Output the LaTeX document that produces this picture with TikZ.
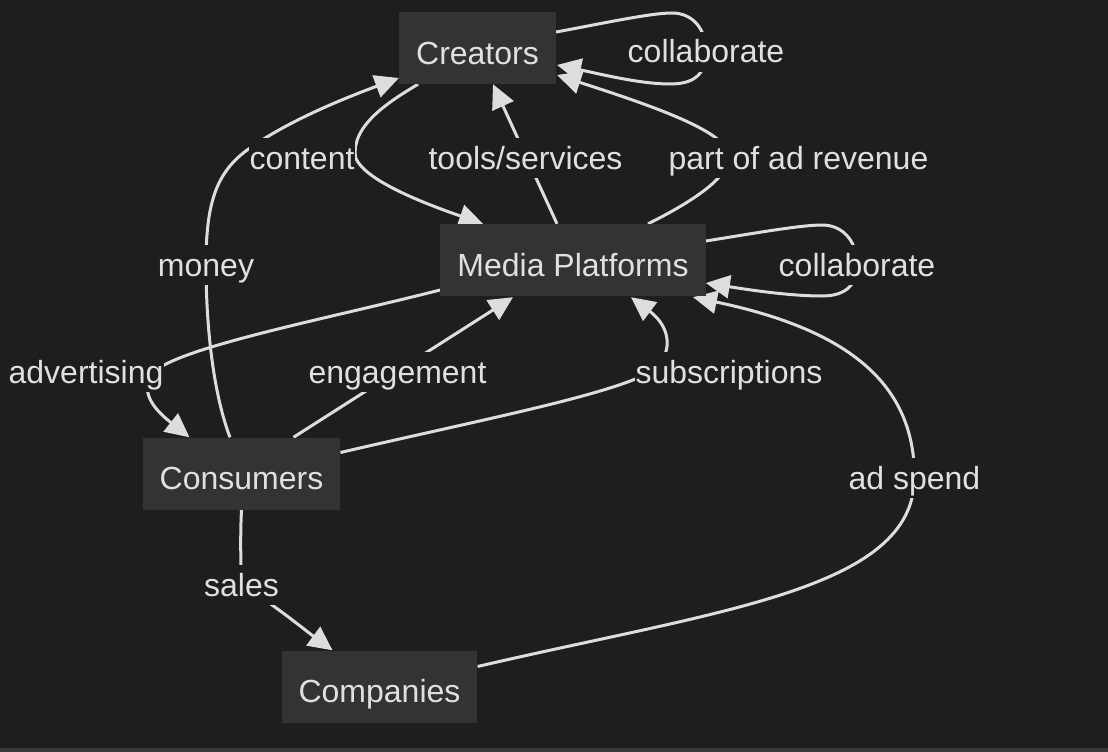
\documentclass[tikz,border=0pt]{standalone}
\usepackage{fontspec}
\setmainfont{Liberation Sans}
\usepackage{tikz}
\usetikzlibrary{arrows.meta, calc}
\definecolor{darkBg}{HTML}{1E1E1E}
\definecolor{boxGray}{HTML}{333333}
\definecolor{edgeGray}{HTML}{DDDDDD}
\definecolor{textGray}{HTML}{E0E0E0}
\definecolor{stripGray}{HTML}{3A3A3A}
\pgfdeclarelayer{edges}
\pgfsetlayers{edges,main}

\begin{document}
\begin{tikzpicture}[x=1pt, y=-1pt, line cap=round,
	entity/.style={fill=boxGray, text=textGray, inner xsep=17pt, inner ysep=0pt, text height=32pt, text depth=0pt, minimum height=72pt, font=\fontsize{32}{38}\selectfont},
	elabel/.style={fill=darkBg, text=textGray, inner xsep=1pt, inner ysep=0pt, text height=22pt, text depth=0pt, minimum height=40pt, font=\fontsize{32}{38}\selectfont},
	flow/.style={draw=edgeGray, line width=3pt, -{Triangle[length=24pt, width=23pt]}}]
	\useasboundingbox (0,0) rectangle (1108,752);

	% boxes
	\node[entity] (creators) at (477.5,48) {Creators};
	\node[entity] (media) at (573,260) {Media Platforms};
	\node[entity] (consumers) at (241.5,473.5) {Consumers};
	\node[entity] (companies) at (379.5,686.5) {Companies};

	% edge labels
	\node[elabel] (lContent) at (302,158) {content};
	\node[elabel] (lTools) at (525.5,158) {tools/services};
	\node[elabel] (lRevenue) at (798.5,158) {part of ad revenue};
	\node[elabel] (lCollabC) at (706,52) {collaborate};
	\node[elabel] (lMoney) at (206,265) {money};
	\node[elabel] (lCollabM) at (857,265) {collaborate};
	\node[elabel] (lAdvert) at (86,372) {advertising};
	\node[elabel] (lEngage) at (397.5,372) {engagement};
	\node[elabel] (lSubs) at (729,372) {subscriptions};
	\node[elabel] (lSpend) at (914.5,478) {ad spend};
	\node[elabel] (lSales) at (241.5,585) {sales};

	\begin{pgfonlayer}{edges}
	\fill[darkBg] (0,0) rectangle (1108,752);
	\fill[stripGray] (0,748) rectangle (1108,752);

	% creators -> media
	\draw[flow] ($(creators.south)+(-59.5,0)$) .. controls (392,100) and (350,125) .. (lContent.east) .. controls (365,180) and (420,202) .. ($(media.north)+(-90,0)$);
	% consumers -> creators
	\draw[flow] ($(consumers.north)+(-11.5,0)$) .. controls (212,390) and (206,320) .. (lMoney.center) .. controls (206,205) and (215,172) .. (250,148) .. controls (290,120) and (345,98) .. ($(creators.west)+(0,30)$);
	% media -> creators
	\draw[flow] ($(media.north)+(-16,0)$) -- ($(creators.south)+(15.5,0)$);
	\draw[flow] ($(media.north)+(75,0)$) .. controls (700,198) and (735,172) .. (728,152) .. controls (720,128) and (640,102) .. ($(creators.east)+(1,27)$);
	% self loops
	\draw[flow] ($(creators.east)+(0,-16)$) .. controls (600,24) and (650,13) .. (672,13) .. controls (692,13) and (706,28) .. (lCollabC.center) .. controls (706,76) and (692,84) .. (670,84) .. controls (640,84) and (600,74) .. ($(creators.east)+(1,17)$);
	\draw[flow] ($(media.east)+(0,-19)$) .. controls (750,234) and (800,225) .. (822,225) .. controls (842,225) and (857,240) .. (lCollabM.center) .. controls (857,288) and (842,296) .. (822,296) .. controls (790,296) and (750,290) .. ($(media.east)+(0,23)$);
	% media <-> consumers
	\draw[flow] ($(media.west)+(0,30)$) .. controls (330,318) and (190,345) .. (156,370) .. controls (136,390) and (155,410) .. ($(consumers.north)+(-52,0)$);
	\draw[flow] ($(consumers.north)+(52,0)$) -- ($(media.south)+(-60,1)$);
	\draw[flow] ($(consumers.east)+(0,-21)$) .. controls (480,420) and (610,395) .. (650,372) .. controls (674,356) and (672,328) .. ($(media.south)+(58,1)$);
	% consumers -> companies -> media
	\draw[flow] (consumers.south) .. controls (240,540) and (241,565) .. (lSales.center) .. controls (268,600) and (305,630) .. ($(companies.north)+(-47,0)$);
	\draw[flow] ($(companies.east)+(0,-20)$) .. controls (720,610) and (913,590) .. (lSpend.center) .. controls (915,385) and (850,330) .. ($(media.south)+(120,1)$);
	\end{pgfonlayer}

\end{tikzpicture}
\end{document}
